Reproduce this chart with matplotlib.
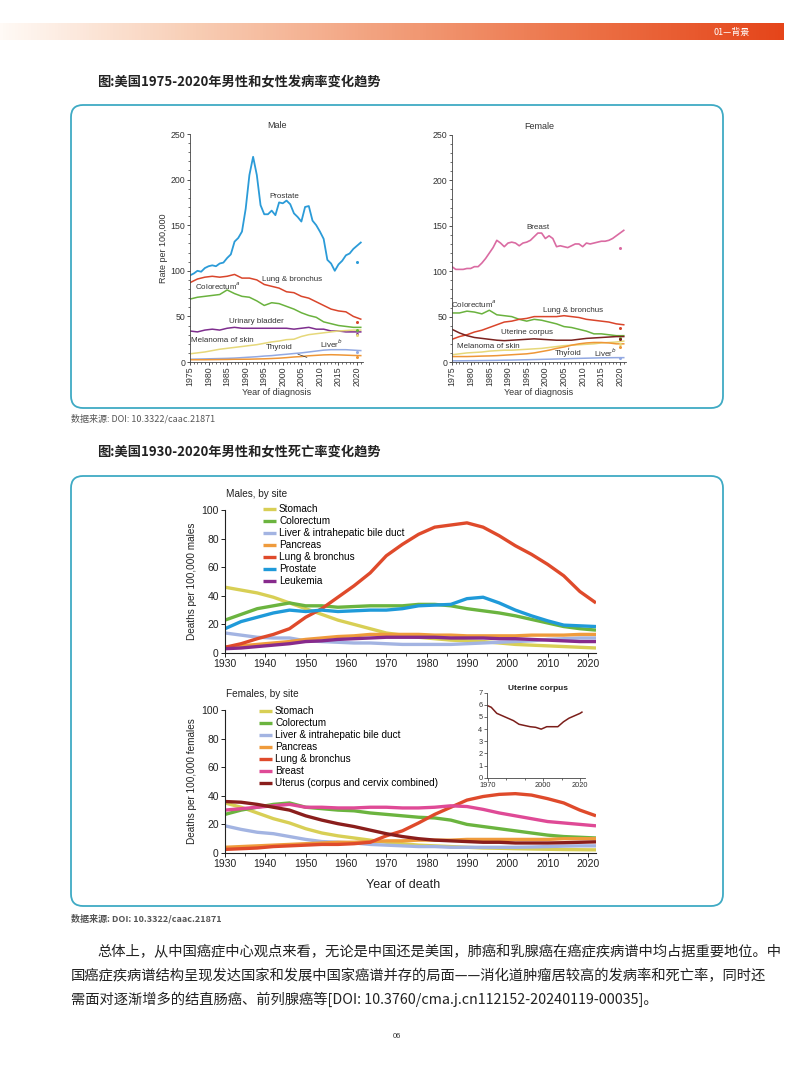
import numpy as np
import matplotlib
matplotlib.use('Agg')
import matplotlib.pyplot as plt
from matplotlib.patches import FancyBboxPatch
from matplotlib.colors import LinearSegmentedColormap
from matplotlib.ticker import MultipleLocator

# ---------------- data: incidence 1975-2021 (2020 shown as a separate dot) ----------------
inc_years_yearly = list(range(1975, 2020)) + [2021]
inc_years = list(range(1975, 2020, 2)) + [2021]

prostate_inc = [95, 97, 100, 99, 103, 105, 106, 105, 108, 109, 114, 118, 132, 136, 143, 168,
                205, 225, 205, 172, 162, 162, 166, 161, 175, 174, 177, 173, 163, 159, 154, 170,
                171, 155, 150, 143, 135, 112, 108, 100, 107, 111, 117, 119, 124, 131]
lung_m_inc = [87, 91, 93, 94, 93, 94, 96, 92, 92, 90, 85, 83, 81, 77, 76, 72, 70, 66, 62, 58, 56, 55, 50, 47]
colorectum_m_inc = [69, 71, 72, 73, 74, 79, 75, 72, 71, 67, 62, 65, 64, 61, 58, 54, 51, 49, 44, 42, 40, 39, 38, 38]
bladder_m_inc = [34, 33, 35, 36, 35, 37, 38, 37, 37, 37, 37, 37, 37, 37, 36, 37, 38, 36, 36, 34, 34, 33, 33, 33]
melanoma_m_inc = [9, 10, 11, 12.5, 14, 15, 16, 17, 18, 19, 20.5, 22, 23, 24.5, 25, 28, 30, 31, 32, 33, 34, 34.5, 35, 35]
liver_m_inc = [3, 3.2, 3.4, 3.6, 3.8, 4, 4.3, 4.8, 5.3, 5.8, 6.5, 7, 7.8, 8.5, 9.3, 10, 11, 12, 13, 13.5, 13.5, 13.5, 13, 12.5]
thyroid_m_inc = [2.5, 2.5, 2.5, 2.6, 2.7, 2.8, 3, 3, 3.1, 3.3, 3.5, 3.8, 4.2, 4.8, 5.5, 6, 6.8, 7.3, 7.8, 8, 7.8, 7.5, 7.2, 7]
male_2020 = [110, 44, 35, 31, 30, 11, 6]

breast_inc = [105, 102, 102, 102, 103, 103, 105, 105, 109, 114, 120, 126, 134, 131, 127, 131,
              132, 131, 128, 131, 132, 134, 138, 142, 142, 136, 139, 136, 127, 128, 127, 126,
              128, 130, 130, 127, 131, 130, 131, 132, 133, 133, 134, 136, 139, 145]
colorectum_f_inc = [54, 54, 56, 55, 53, 57, 52, 51, 50, 47, 45, 47, 46, 44, 42, 39, 38, 36, 34, 31, 31, 30, 29, 29]
lung_f_inc = [25, 28, 30, 33, 35, 38, 41, 44, 45, 47, 48, 50, 50, 50, 50, 51, 50, 49, 47, 46, 45, 44, 42, 41]
uterine_f_inc = [36, 32, 29, 27, 26, 25, 24, 23.5, 24, 24.5, 25, 25.5, 25, 24.5, 24, 24, 24, 25, 26, 26.5, 27, 27.5, 28, 28]
melanoma_f_inc = [8, 9, 10, 10.5, 11, 12, 12.5, 13, 13, 13.5, 14, 14.5, 15, 16, 17, 18, 18.5, 19, 19.5, 20, 21, 21.5, 22, 23]
thyroid_f_inc = [6, 6, 6, 6.2, 6.5, 6.7, 7, 7.5, 8, 8.5, 9, 10, 11.5, 13, 15, 16.5, 18.5, 20, 21, 21.5, 21.5, 21, 20, 20]
liver_f_inc = [1.3, 1.3, 1.4, 1.5, 1.6, 1.7, 1.8, 2, 2.1, 2.3, 2.5, 2.7, 2.9, 3.1, 3.3, 3.5, 3.8, 4, 4.2, 4.4, 4.6, 4.7, 4.8, 4.8]
female_2020 = [126, 26, 37, 25, 20, 17, 4]

# ---------------- data: deaths 1930-2022 ----------------
death_years = list(range(1930, 2023, 4))

stomach_m = [46, 44, 42, 39, 35, 31, 27, 23, 20, 17, 14, 12.5, 11, 10, 9, 8.5, 8, 7, 6, 5.5, 5, 4.5, 4, 3.5]
colorectum_m = [23, 27, 31, 33, 35, 33, 33, 32, 32.5, 33, 33, 33, 34, 34, 33, 31, 29.5, 28, 26, 23.5, 21, 18.5, 17, 16]
liver_m = [14, 12.5, 11, 10.5, 10.5, 8.5, 8, 7.5, 7, 7, 6.5, 6, 6, 6, 6, 6.5, 7, 7.5, 8, 8.5, 9.5, 10, 10.5, 10.5]
pancreas_m = [4, 5, 6, 7, 8, 9.5, 10.5, 11.5, 12, 13, 13, 13, 13, 12.5, 12.5, 12, 12, 12, 12, 12.5, 12.5, 12.5, 13, 13]
lung_m = [4, 6.5, 10, 13, 17, 25, 31, 39, 47, 56, 68, 76, 83, 88, 89.5, 91, 88, 82, 75, 69, 62, 54, 43, 35]
prostate_m = [17, 22, 25, 28, 30, 29, 30, 29, 29.5, 30, 30, 31, 33, 33.5, 34, 38, 39, 35, 30, 26, 22.5, 19.5, 19, 18.5]
leukemia_m = [3, 3.5, 4.5, 5.5, 6.5, 8, 8.5, 9.5, 10, 10.5, 11, 11, 11, 11, 10.5, 10.5, 10.5, 10, 10, 9.5, 9, 8.5, 8, 8]

stomach_f = [35, 32, 28, 24, 21, 17, 14, 12, 10.5, 9, 7.5, 6.5, 5.5, 5, 4.5, 4, 3.5, 3.3, 3, 2.8, 2.6, 2.4, 2.3, 2.2]
colorectum_f = [27, 30, 32, 34, 35, 32, 31, 30, 29.5, 28, 27, 26, 25, 24.5, 23, 20, 18.5, 17, 15.5, 14, 12.5, 11.5, 11, 10.5]
liver_f = [19, 16.5, 14.5, 13.5, 11.5, 9.5, 8, 7.5, 7, 6, 5.5, 5, 4.5, 4.5, 4, 4, 4, 4, 4, 4.2, 4.5, 4.8, 5, 5]
pancreas_f = [4, 4.5, 5, 5.5, 6, 6.5, 7, 7.5, 7.5, 8, 8.5, 8.5, 9, 9, 9, 9.5, 9.5, 9.5, 9.5, 9.5, 9.5, 10, 10, 10]
lung_f = [2.5, 3, 3.5, 4.5, 5, 5.5, 6, 6, 6.5, 7.5, 12, 15.5, 21, 27, 32, 37, 39.5, 41, 41.5, 40.5, 38, 35, 30, 26]
breast_f = [30, 31, 32, 33, 34, 32, 32, 31.5, 31.5, 32, 32, 31.5, 31.5, 32, 33, 32.5, 30.5, 28, 26, 24, 22, 21, 20, 19]
uterus_f = [36, 35.5, 34, 32, 30, 26, 23, 20.5, 18.5, 16, 13.5, 11.5, 10, 9, 8.5, 8, 7.5, 7.5, 7, 7, 7, 7.2, 7.5, 7.8]

corpus_years = [1969, 1972, 1975, 1978, 1981, 1984, 1987, 1990, 1993, 1996, 1999, 2002, 2005, 2008, 2011, 2014, 2017, 2020, 2021]
corpus_deaths = [6.0, 5.8, 5.3, 5.1, 4.9, 4.7, 4.4, 4.3, 4.2, 4.15, 4.0, 4.2, 4.2, 4.2, 4.6, 4.9, 5.1, 5.3, 5.4]

male_death_labels = ['Stomach', 'Colorectum', 'Liver & intrahepatic bile duct', 'Pancreas',
                     'Lung & bronchus', 'Prostate', 'Leukemia']
female_death_labels = ['Stomach', 'Colorectum', 'Liver & intrahepatic bile duct', 'Pancreas',
                       'Lung & bronchus', 'Breast', 'Uterus (corpus and cervix combined)']

# ---------------- style ----------------
plt.rcParams['font.family'] = ['Liberation Sans', 'Noto Sans CJK SC', 'DejaVu Sans']
CJK = ['Noto Sans CJK SC', 'DejaVu Sans']

c_prost, c_lung, c_colo, c_blad = '#2B9BD8', '#D9452B', '#6AB23E', '#7E2E8E'
c_mel, c_liv, c_thy, c_breast, c_uter = '#E6D87A', '#93A9E2', '#EE9637', '#DA6BA2', '#7B2320'
death_m_colors = ['#D8CF55', '#6BB43F', '#A3B4E2', '#EF9B3C', '#DF4A2B', '#1F9AD9', '#872A8C']
death_f_colors = ['#D8CF55', '#6BB43F', '#A3B4E2', '#EF9B3C', '#DF4A2B', '#DF4A96', '#8A1E1C']

W, H = 794, 1077
fig = plt.figure(figsize=(W / 100, H / 100), dpi=100)


def px_axes(x0, y0, x1, y1):
    return fig.add_axes([x0 / W, 1 - y1 / H, (x1 - x0) / W, (y1 - y0) / H])


# page background layer
bg = px_axes(0, 0, W, H)
bg.set_zorder(0)
grad = LinearSegmentedColormap.from_list('hdr', ['#FFFAF6', '#F8CDB4', '#F29E7A', '#EC7146', '#E5451A'])
bg.imshow(np.linspace(0, 1, 256)[None, :], extent=[0, 784, 40, 23], cmap=grad, aspect='auto')
bg.set_xlim(0, W)
bg.set_ylim(H, 0)
bg.axis('off')
bg.text(713, 32, '01—背景', color='white', fontsize=6.5, va='center', family=CJK)

bg.text(97, 82, '图:美国1975-2020年男性和女性发病率变化趋势', fontsize=9.5, weight='bold',
        va='center', family=CJK, color='#222')
bg.add_patch(FancyBboxPatch((71, 105), 652, 303, boxstyle='round,pad=0,rounding_size=12',
                            fill=False, ec='#3FAAC4', lw=1.3))
bg.text(71, 419, '数据来源: DOI: 10.3322/caac.21871', fontsize=6.5, va='center', family=CJK, color='#555')

bg.text(97, 452, '图:美国1930-2020年男性和女性死亡率变化趋势', fontsize=9.5, weight='bold',
        va='center', family=CJK, color='#222')
bg.add_patch(FancyBboxPatch((71, 476), 652, 430, boxstyle='round,pad=0,rounding_size=12',
                            fill=False, ec='#3FAAC4', lw=1.3))
bg.text(71, 919, '数据来源: DOI: 10.3322/caac.21871', fontsize=6.5, va='center', family=CJK,
        color='#555', weight='bold')

para = ['总体上，从中国癌症中心观点来看，无论是中国还是美国，肺癌和乳腺癌在癌症疾病谱中均占据重要地位。中',
        '国癌症疾病谱结构呈现发达国家和发展中国家癌谱并存的局面——消化道肿瘤居较高的发病率和死亡率，同时还',
        '需面对逐渐增多的结直肠癌、前列腺癌等[DOI: 10.3760/cma.j.cn112152-20240119-00035]。']
bg.text(97, 952, para[0], fontsize=10.3, va='center', family=CJK, color='#222')
bg.text(71, 976, para[1], fontsize=10.3, va='center', family=CJK, color='#222')
bg.text(71, 999, para[2], fontsize=10.3, va='center', family=CJK, color='#222')
bg.text(397, 1036, '06', fontsize=5.5, ha='center', va='center', color='#333')


# ---------------- incidence panels ----------------
def style_inc(ax, title):
    ax.set_xlim(1975, 2021.6)
    ax.set_ylim(0, 250)
    ax.patch.set_alpha(0)
    for s in ['top', 'right']:
        ax.spines[s].set_visible(False)
    for s in ['left', 'bottom']:
        ax.spines[s].set_color('#444')
        ax.spines[s].set_linewidth(0.6)
    ax.set_xticks(range(1975, 2021, 5))
    ax.set_xticklabels([str(y) for y in range(1975, 2021, 5)], rotation=90)
    ax.xaxis.set_minor_locator(MultipleLocator(1))
    ax.yaxis.set_major_locator(MultipleLocator(50))
    ax.yaxis.set_minor_locator(MultipleLocator(10))
    ax.tick_params(labelsize=6.3, length=2.5, width=0.6, colors='#333', pad=1)
    ax.tick_params(which='minor', length=1.2, width=0.4)
    ax.set_xlabel('Year of diagnosis', fontsize=6.5, color='#333', labelpad=1)
    ax.set_title(title, fontsize=6.5, color='#333', pad=4)


axm = px_axes(190, 134, 363, 362)
style_inc(axm, 'Male')
axm.set_ylabel('Rate per 100,000', fontsize=6.5, color='#333', labelpad=2)
axm.plot(inc_years_yearly, prostate_inc, color=c_prost, lw=1.3)
male_series = [lung_m_inc, colorectum_m_inc, bladder_m_inc, melanoma_m_inc, liver_m_inc, thyroid_m_inc]
male_cols = [c_lung, c_colo, c_blad, c_mel, c_liv, c_thy]
for vals, c in zip(male_series, male_cols):
    axm.plot(inc_years, vals, color=c, lw=1.1)
for v, c in zip(male_2020, [c_prost] + male_cols):
    axm.plot(2020, v, 'o', ms=2.2, color=c, mec='none')
lab = dict(fontsize=5.8, color='#333', ha='center', va='center')
axm.text(2000.5, 182, 'Prostate', **lab)
axm.text(2002.5, 90, 'Lung & bronchus', **lab)
axm.text(1982.5, 84, 'Colorectum$^{a}$', **lab)
axm.text(1993, 44, 'Urinary bladder', **lab)
axm.text(1983.6, 24, 'Melanoma of skin', **lab)
axm.text(2013, 19.5, 'Liver$^{b}$', **lab)
axm.annotate('Thyroid', xy=(2006.5, 5), xytext=(1999, 16), fontsize=5.8, color='#333',
             ha='center', va='center', arrowprops=dict(arrowstyle='-', lw=0.5, color='#333',
                                                       shrinkA=2, shrinkB=0))

axf = px_axes(452, 135, 626, 362)
style_inc(axf, 'Female')
axf.plot(inc_years_yearly, breast_inc, color=c_breast, lw=1.2)
female_series = [colorectum_f_inc, lung_f_inc, uterine_f_inc, melanoma_f_inc, thyroid_f_inc, liver_f_inc]
female_cols = [c_colo, c_lung, c_uter, c_mel, c_thy, c_liv]
for vals, c in zip(female_series, female_cols):
    axf.plot(inc_years, vals, color=c, lw=1.1)
for v, c in zip(female_2020, [c_breast] + female_cols):
    axf.plot(2020, v, 'o', ms=2.2, color=c, mec='none')
axf.text(1998, 148, 'Breast', **lab)
axf.text(1981, 64, 'Colorectum$^{a}$', **lab)
axf.text(2007.5, 57, 'Lung & bronchus', **lab)
axf.text(1995, 32, 'Uterine corpus', **lab)
axf.text(1984.7, 17, 'Melanoma of skin', **lab)
axf.text(2016, 10, 'Liver$^{b}$', **lab)
axf.annotate('Thyroid', xy=(2006.3, 15.5), xytext=(2006, 9), fontsize=5.8, color='#333',
             ha='center', va='center', arrowprops=dict(arrowstyle='-', lw=0.5, color='#333',
                                                       shrinkA=3, shrinkB=0))


# ---------------- death panels ----------------
def style_death(ax, ylabel):
    ax.set_xlim(1930, 2022)
    ax.set_ylim(0, 100)
    ax.patch.set_alpha(0)
    for s in ['top', 'right']:
        ax.spines[s].set_visible(False)
    for s in ['left', 'bottom']:
        ax.spines[s].set_linewidth(0.8)
        ax.spines[s].set_color('#222')
    ax.set_xticks(range(1930, 2021, 10))
    ax.xaxis.set_minor_locator(MultipleLocator(5))
    ax.yaxis.set_major_locator(MultipleLocator(20))
    ax.tick_params(labelsize=7.5, length=3, width=0.7, pad=1.5, colors='#222')
    ax.tick_params(which='minor', length=1.8, width=0.5)
    ax.set_ylabel(ylabel, fontsize=7.2, color='#222', labelpad=3)


leg_kw = dict(bbox_transform=fig.transFigure, loc='upper left', frameon=False, fontsize=7.2,
              handlelength=1.3, handletextpad=0.3, labelspacing=0.2, borderpad=0, borderaxespad=0)

axdm = px_axes(225, 510, 596, 653)
style_death(axdm, 'Deaths per 100,000 males')
for vals, c, l in zip([stomach_m, colorectum_m, liver_m, pancreas_m, lung_m, prostate_m, leukemia_m],
                      death_m_colors, male_death_labels):
    axdm.plot(death_years, vals, color=c, lw=2.4, label=l, solid_capstyle='butt')
axdm.legend(bbox_to_anchor=(263 / W, 1 - 504 / H), **leg_kw)
bg.text(226, 494, 'Males, by site', fontsize=7.2, va='center', color='#222')

axdf = px_axes(225, 710, 596, 853)
style_death(axdf, 'Deaths per 100,000 females')
for vals, c, l in zip([stomach_f, colorectum_f, liver_f, pancreas_f, lung_f, breast_f, uterus_f],
                      death_f_colors, female_death_labels):
    axdf.plot(death_years, vals, color=c, lw=2.4, label=l, solid_capstyle='butt')
axdf.legend(bbox_to_anchor=(259 / W, 1 - 706 / H), **leg_kw)
bg.text(226, 694, 'Females, by site', fontsize=7.2, va='center', color='#222')
bg.text(403, 885, 'Year of death', fontsize=9, ha='center', va='center', color='#222')

# inset: uterine corpus
axi = px_axes(486.6, 692.7, 584.7, 777.7)
axi.set_xlim(1969.5, 2022.5)
axi.set_ylim(0, 7)
axi.patch.set_alpha(0)
for s in ['top', 'right']:
    axi.spines[s].set_visible(False)
for s in ['left', 'bottom']:
    axi.spines[s].set_linewidth(0.6)
    axi.spines[s].set_color('#444')
axi.plot(corpus_years, corpus_deaths, color='#7B1E1A', lw=1.1)
axi.set_xticks([1970, 2000, 2020])
axi.xaxis.set_minor_locator(MultipleLocator(10))
axi.yaxis.set_major_locator(MultipleLocator(1))
axi.tick_params(labelsize=5.3, length=2, width=0.5, pad=1, colors='#333')
axi.tick_params(which='minor', length=1.2, width=0.4)
bg.text(538, 689, 'Uterine corpus', fontsize=6, weight='bold', ha='center', va='center', color='#222')

fig.savefig('out.png', dpi=100)
